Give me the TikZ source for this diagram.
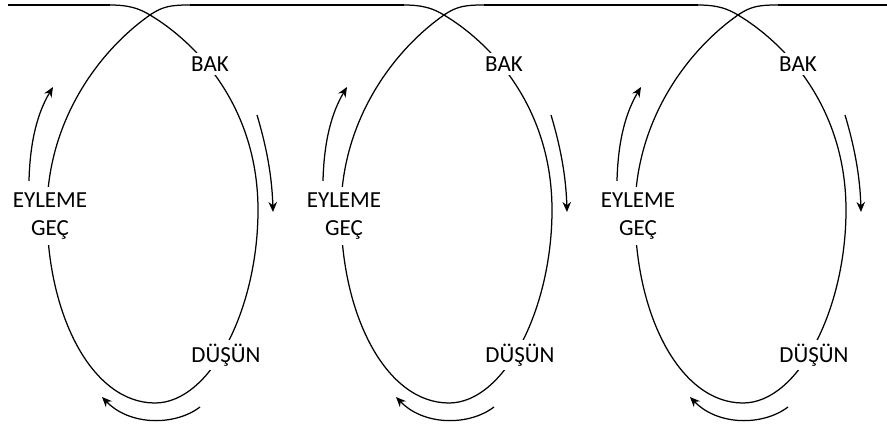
\documentclass[tikz,border=0pt]{standalone}
\usepackage{fontspec}
\setmainfont{Carlito}
\usetikzlibrary{arrows.meta}
\begin{document}
\begin{tikzpicture}[x=1pt,y=-1pt,
  loopline/.style={line width=1.25pt, black},
  cyclelabel/.style={fill=white, inner xsep=1pt, inner ysep=4pt,
    font=\fontsize{23}{28}\selectfont, align=center},
  cyclearrow/.style={line width=1.25pt, black,
    -{Stealth[length=10pt,width=8.5pt]}}]
\useasboundingbox (0,0) rectangle (887,430);

% three look-think-act loops, each shifted 294pt to the right
\foreach \k in {0,1,2}{
  \begin{scope}[xshift=\k*294pt]
    \coordinate (in\k) at (110,5);
    \coordinate (out\k) at (190,5);
    \draw[loopline] (in\k) .. controls (130,5) and (140,9) .. (150,15)
      .. controls (200,45) and (258,110) .. (258,210)
      .. controls (258,310) and (210,403) .. (155,403)
      .. controls (92,403) and (47,315) .. (47,212)
      .. controls (47,120) and (100,50) .. (150,15)
      .. controls (163,6) and (172,5) .. (out\k);
    \node[cyclelabel] (bak\k) at (210,64) {BAK};
    \node[cyclelabel] (dusun\k) at (226,355) {DÜŞÜN};
    \node[cyclelabel, inner ysep=6pt] (eylem\k) at (50,216) {EYLEME\\GEÇ};
    % direction arrows beside the loop
    \coordinate (ra\k) at (257,115);
    \coordinate (rb\k) at (273,212);
    \draw[cyclearrow] (ra\k) .. controls (266,145) and (272,175) .. (rb\k);
    \coordinate (ba\k) at (200,407);
    \coordinate (bb\k) at (102,397);
    \draw[cyclearrow] (ba\k) .. controls (175,426) and (130,426) .. (bb\k);
    \coordinate (la\k) at (29,181);
    \coordinate (lb\k) at (53,87);
    \draw[cyclearrow] (la\k) .. controls (30,140) and (38,112) .. (lb\k);
  \end{scope}
}

% the line running along the top, linking the loops
\coordinate (start) at (8,5);
\coordinate (finish) at (887,5);
\draw[loopline] (start) -- (in0);
\draw[loopline] (out0) -- (in1);
\draw[loopline] (out1) -- (in2);
\draw[loopline] (out2) -- (finish);
\end{tikzpicture}
\end{document}
